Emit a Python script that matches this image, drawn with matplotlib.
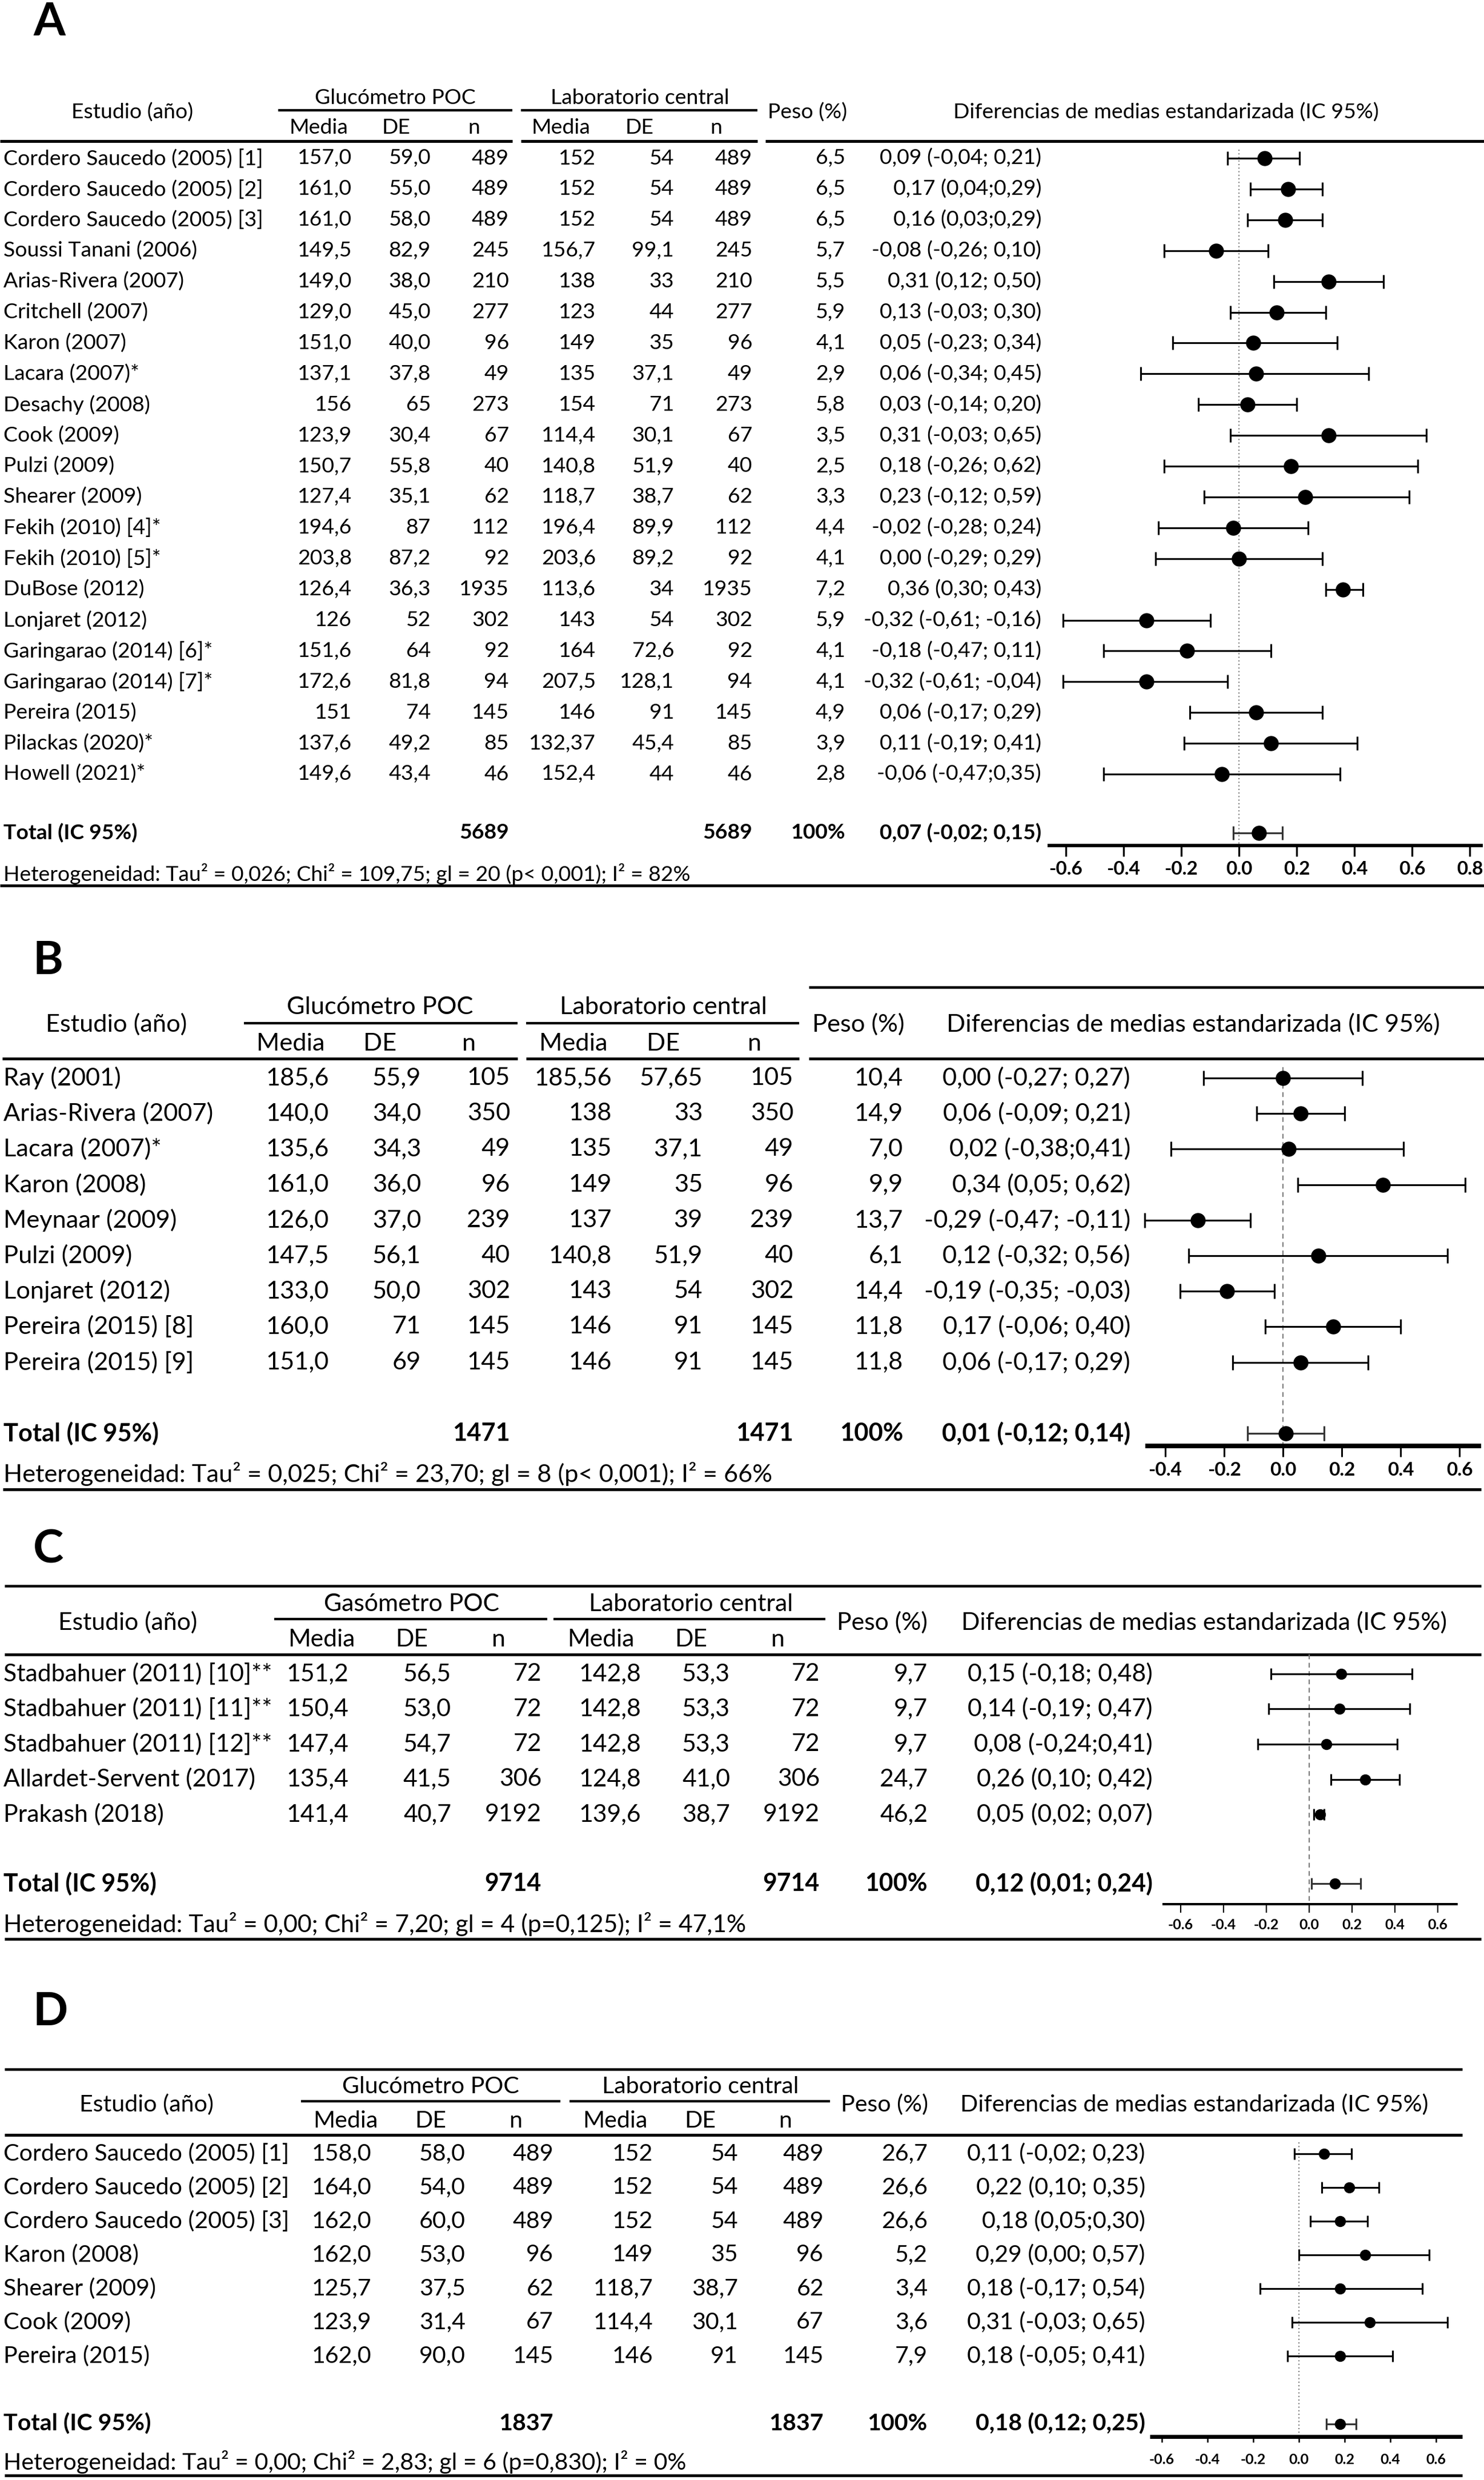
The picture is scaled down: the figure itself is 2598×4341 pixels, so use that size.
import matplotlib
matplotlib.use('Agg')
import matplotlib.pyplot as plt
import numpy as np
from matplotlib.ticker import FormatStrFormatter

plt.rcParams['font.family'] = ['Lato', 'DejaVu Sans']
plt.rcParams['axes.unicode_minus'] = False

# ======================= DATA =======================
SUB_HEADERS = ["Media", "DE", "n", "Media", "DE", "n"]
LAB_HEADER = "Laboratorio central"
DIF_HEADER = "Diferencias de medias estandarizada (IC 95%)"

# ---- Panel A ----
A_group = "Glucómetro POC"
A_study = ["Cordero Saucedo (2005) [1]", "Cordero Saucedo (2005) [2]", "Cordero Saucedo (2005) [3]",
           "Soussi Tanani (2006)", "Arias-Rivera (2007)", "Critchell (2007)", "Karon (2007)",
           "Lacara (2007)*", "Desachy (2008)", "Cook (2009)", "Pulzi (2009)", "Shearer (2009)",
           "Fekih (2010) [4]*", "Fekih (2010) [5]*", "DuBose (2012)", "Lonjaret (2012)",
           "Garingarao (2014) [6]*", "Garingarao (2014) [7]*", "Pereira (2015)", "Pilackas (2020)*",
           "Howell (2021)*"]
A_poc_media = ["157,0", "161,0", "161,0", "149,5", "149,0", "129,0", "151,0", "137,1", "156", "123,9",
               "150,7", "127,4", "194,6", "203,8", "126,4", "126", "151,6", "172,6", "151", "137,6", "149,6"]
A_poc_de = ["59,0", "55,0", "58,0", "82,9", "38,0", "45,0", "40,0", "37,8", "65", "30,4", "55,8", "35,1",
            "87", "87,2", "36,3", "52", "64", "81,8", "74", "49,2", "43,4"]
A_poc_n = ["489", "489", "489", "245", "210", "277", "96", "49", "273", "67", "40", "62", "112", "92",
           "1935", "302", "92", "94", "145", "85", "46"]
A_lab_media = ["152", "152", "152", "156,7", "138", "123", "149", "135", "154", "114,4", "140,8", "118,7",
               "196,4", "203,6", "113,6", "143", "164", "207,5", "146", "132,37", "152,4"]
A_lab_de = ["54", "54", "54", "99,1", "33", "44", "35", "37,1", "71", "30,1", "51,9", "38,7", "89,9",
            "89,2", "34", "54", "72,6", "128,1", "91", "45,4", "44"]
A_lab_n = ["489", "489", "489", "245", "210", "277", "96", "49", "273", "67", "40", "62", "112", "92",
           "1935", "302", "92", "94", "145", "85", "46"]
A_peso = ["6,5", "6,5", "6,5", "5,7", "5,5", "5,9", "4,1", "2,9", "5,8", "3,5", "2,5", "3,3", "4,4", "4,1",
          "7,2", "5,9", "4,1", "4,1", "4,9", "3,9", "2,8"]
A_ci = ["0,09 (-0,04; 0,21)", "0,17 (0,04;0,29)", "0,16 (0,03;0,29)", "-0,08 (-0,26; 0,10)",
        "0,31 (0,12; 0,50)", "0,13 (-0,03; 0,30)", "0,05 (-0,23; 0,34)", "0,06 (-0,34; 0,45)",
        "0,03 (-0,14; 0,20)", "0,31 (-0,03; 0,65)", "0,18 (-0,26; 0,62)", "0,23 (-0,12; 0,59)",
        "-0,02 (-0,28; 0,24)", "0,00 (-0,29; 0,29)", "0,36 (0,30; 0,43)", "-0,32 (-0,61; -0,16)",
        "-0,18 (-0,47; 0,11)", "-0,32 (-0,61; -0,04)", "0,06 (-0,17; 0,29)", "0,11 (-0,19; 0,41)",
        "-0,06 (-0,47;0,35)"]
A_est = [0.09, 0.17, 0.16, -0.08, 0.31, 0.13, 0.05, 0.06, 0.03, 0.31, 0.18, 0.23, -0.02, 0.00, 0.36,
         -0.32, -0.18, -0.32, 0.06, 0.11, -0.06]
A_lo = [-0.04, 0.04, 0.03, -0.26, 0.12, -0.03, -0.23, -0.34, -0.14, -0.03, -0.26, -0.12, -0.28, -0.29,
        0.30, -0.61, -0.47, -0.61, -0.17, -0.19, -0.47]
A_hi = [0.21, 0.29, 0.29, 0.10, 0.50, 0.30, 0.34, 0.45, 0.20, 0.65, 0.62, 0.59, 0.24, 0.29, 0.43,
        -0.10, 0.11, -0.04, 0.29, 0.41, 0.35]
A_total_n = "5689"
A_total_ci = "0,07 (-0,02; 0,15)"
A_total = (0.07, -0.02, 0.15)
A_het = "Heterogeneidad: Tau² = 0,026; Chi² = 109,75; gl = 20 (p< 0,001); I² = 82%"
A_ticks = [-0.6, -0.4, -0.2, 0.0, 0.2, 0.4, 0.6, 0.8]

# ---- Panel B ----
B_group = "Glucómetro POC"
B_study = ["Ray (2001)", "Arias-Rivera (2007)", "Lacara (2007)*", "Karon (2008)", "Meynaar (2009)",
           "Pulzi (2009)", "Lonjaret (2012)", "Pereira (2015) [8]", "Pereira (2015) [9]"]
B_poc_media = ["185,6", "140,0", "135,6", "161,0", "126,0", "147,5", "133,0", "160,0", "151,0"]
B_poc_de = ["55,9", "34,0", "34,3", "36,0", "37,0", "56,1", "50,0", "71", "69"]
B_poc_n = ["105", "350", "49", "96", "239", "40", "302", "145", "145"]
B_lab_media = ["185,56", "138", "135", "149", "137", "140,8", "143", "146", "146"]
B_lab_de = ["57,65", "33", "37,1", "35", "39", "51,9", "54", "91", "91"]
B_lab_n = ["105", "350", "49", "96", "239", "40", "302", "145", "145"]
B_peso = ["10,4", "14,9", "7,0", "9,9", "13,7", "6,1", "14,4", "11,8", "11,8"]
B_ci = ["0,00 (-0,27; 0,27)", "0,06 (-0,09; 0,21)", "0,02 (-0,38;0,41)", "0,34 (0,05; 0,62)",
        "-0,29 (-0,47; -0,11)", "0,12 (-0,32; 0,56)", "-0,19 (-0,35; -0,03)", "0,17 (-0,06; 0,40)",
        "0,06 (-0,17; 0,29)"]
B_est = [0.00, 0.06, 0.02, 0.34, -0.29, 0.12, -0.19, 0.17, 0.06]
B_lo = [-0.27, -0.09, -0.38, 0.05, -0.47, -0.32, -0.35, -0.06, -0.17]
B_hi = [0.27, 0.21, 0.41, 0.62, -0.11, 0.56, -0.03, 0.40, 0.29]
B_total_n = "1471"
B_total_ci = "0,01 (-0,12; 0,14)"
B_total = (0.01, -0.12, 0.14)
B_het = "Heterogeneidad: Tau² = 0,025; Chi² = 23,70; gl = 8 (p< 0,001); I² = 66%"
B_ticks = [-0.4, -0.2, 0.0, 0.2, 0.4, 0.6]

# ---- Panel C ----
C_group = "Gasómetro POC"
C_study = ["Stadbahuer (2011) [10]**", "Stadbahuer (2011) [11]**", "Stadbahuer (2011) [12]**",
           "Allardet-Servent (2017)", "Prakash (2018)"]
C_poc_media = ["151,2", "150,4", "147,4", "135,4", "141,4"]
C_poc_de = ["56,5", "53,0", "54,7", "41,5", "40,7"]
C_poc_n = ["72", "72", "72", "306", "9192"]
C_lab_media = ["142,8", "142,8", "142,8", "124,8", "139,6"]
C_lab_de = ["53,3", "53,3", "53,3", "41,0", "38,7"]
C_lab_n = ["72", "72", "72", "306", "9192"]
C_peso = ["9,7", "9,7", "9,7", "24,7", "46,2"]
C_ci = ["0,15 (-0,18; 0,48)", "0,14 (-0,19; 0,47)", "0,08 (-0,24;0,41)", "0,26 (0,10; 0,42)",
        "0,05 (0,02; 0,07)"]
C_est = [0.15, 0.14, 0.08, 0.26, 0.05]
C_lo = [-0.18, -0.19, -0.24, 0.10, 0.02]
C_hi = [0.48, 0.47, 0.41, 0.42, 0.07]
C_total_n = "9714"
C_total_ci = "0,12 (0,01; 0,24)"
C_total = (0.12, 0.01, 0.24)
C_het = "Heterogeneidad: Tau² = 0,00; Chi² = 7,20; gl = 4 (p=0,125); I² = 47,1%"
C_ticks = [-0.6, -0.4, -0.2, 0.0, 0.2, 0.4, 0.6]

# ---- Panel D ----
D_group = "Glucómetro POC"
D_study = ["Cordero Saucedo (2005) [1]", "Cordero Saucedo (2005) [2]", "Cordero Saucedo (2005) [3]",
           "Karon (2008)", "Shearer (2009)", "Cook (2009)", "Pereira (2015)"]
D_poc_media = ["158,0", "164,0", "162,0", "162,0", "125,7", "123,9", "162,0"]
D_poc_de = ["58,0", "54,0", "60,0", "53,0", "37,5", "31,4", "90,0"]
D_poc_n = ["489", "489", "489", "96", "62", "67", "145"]
D_lab_media = ["152", "152", "152", "149", "118,7", "114,4", "146"]
D_lab_de = ["54", "54", "54", "35", "38,7", "30,1", "91"]
D_lab_n = ["489", "489", "489", "96", "62", "67", "145"]
D_peso = ["26,7", "26,6", "26,6", "5,2", "3,4", "3,6", "7,9"]
D_ci = ["0,11 (-0,02; 0,23)", "0,22 (0,10; 0,35)", "0,18 (0,05;0,30)", "0,29 (0,00; 0,57)",
        "0,18 (-0,17; 0,54)", "0,31 (-0,03; 0,65)", "0,18 (-0,05; 0,41)"]
D_est = [0.11, 0.22, 0.18, 0.29, 0.18, 0.31, 0.18]
D_lo = [-0.02, 0.10, 0.05, 0.00, -0.17, -0.03, -0.05]
D_hi = [0.23, 0.35, 0.30, 0.57, 0.54, 0.65, 0.41]
D_total_n = "1837"
D_total_ci = "0,18 (0,12; 0,25)"
D_total = (0.18, 0.12, 0.25)
D_het = "Heterogeneidad: Tau² = 0,00; Chi² = 2,83; gl = 6 (p=0,830); I² = 0%"
D_ticks = [-0.6, -0.4, -0.2, 0.0, 0.2, 0.4, 0.6]

# ======================= LAYOUT (pixels) =======================
W, H = 2598, 4341
LAYOUT = {
    'A': dict(letter_y=62, top_line=None, grp_y=172, hdr_y=197, sub_y=223, ul_y=193, hl_y=247,
              hl_segs=[(0, 897), (912, 1326), (1340, 2598)], ul_segs=[(487, 897), (912, 1326)],
              est_x=232, grp_x=[692, 1120], sub_x=[558, 694, 830, 982, 1120, 1254],
              num_x=[616, 754, 891, 1043, 1180, 1317], peso_x=1480, peso_hx=1414, ci_x=1823,
              dif_x=2041, dif_w=745, row0=277, dy=53.9, tot_y=1458, het_y=1530,
              bot_line=(0, 2598, 1550), zero=2169, ppu=505, ax_x=(1834, 2596), ax_y=1480,
              zero_top=262, ms=18, cap=8.3, spine=4.3, tlen=13.7, tw=2.4, tfs=24, pad=5.5,
              zls=(0, (1, 2))),
    'B': dict(letter_y=1705, top_line=(1416, 2598, 1728), grp_y=1763, hdr_y=1793, sub_y=1827,
              ul_y=1791, hl_y=1853, hl_segs=[(4, 906), (921, 1399), (1416, 2598)],
              ul_segs=[(427, 906), (921, 1399)], est_x=204, grp_x=[665, 1161],
              sub_x=[509, 665, 821, 1004, 1161, 1321], num_x=[576, 737, 893, 1071, 1230, 1389],
              peso_x=1581, peso_hx=1503, ci_x=1979, dif_x=2089, dif_w=865, row0=1887, dy=62.2,
              tot_y=2509, het_y=2580, bot_line=(5, 2593, 2607), zero=2246, ppu=515,
              ax_x=(2005, 2593), ax_y=2531, zero_top=1868, ms=18, cap=9.7, spine=5.8, tlen=13.7,
              tw=2.2, tfs=24, pad=6.5, zls=(0, (4, 3))),
    'C': dict(letter_y=2735, top_line=(8, 2593, 2776), grp_y=2808, hdr_y=2840, sub_y=2870,
              ul_y=2834, hl_y=2896, hl_segs=[(8, 2593)], ul_segs=[(480, 958), (969, 1445)],
              est_x=224, grp_x=[721, 1210], sub_x=[563, 721, 873, 1052, 1210, 1362],
              num_x=[610, 790, 948, 1122, 1278, 1435], peso_x=1624, peso_hx=1544, ci_x=2018,
              dif_x=2108, dif_w=853, row0=2930, dy=61.5, tot_y=3297, het_y=3368,
              bot_line=(8, 2593, 3394), zero=2292, ppu=375, ax_x=(2035, 2552), ax_y=3333,
              zero_top=2896, ms=13, cap=7.2, spine=2.9, tlen=10.8, tw=1.6, tfs=18, pad=7.5,
              zls=(0, (4, 3))),
    'D': dict(letter_y=3545, top_line=(8, 2560, 3622), grp_y=3653, hdr_y=3684, sub_y=3712,
              ul_y=3678, hl_y=3737, hl_segs=[(8, 2560)], ul_segs=[(527, 981), (997, 1453)],
              est_x=257, grp_x=[754, 1226], sub_x=[605, 754, 903, 1077, 1226, 1375],
              num_x=[650, 815, 969, 1143, 1292, 1442], peso_x=1624, peso_hx=1549, ci_x=2005,
              dif_x=2091, dif_w=820, row0=3770, dy=59, tot_y=4243, het_y=4310,
              bot_line=(8, 2560, 4333), zero=2274, ppu=400, ax_x=(2013, 2560), ax_y=4265,
              zero_top=3750, ms=13, cap=7.2, spine=5.0, tlen=7.2, tw=1.8, tfs=18, pad=13.5,
              zls=(0, (1, 2))),
}

PANELS = {
    'A': dict(grp=A_group, study=A_study, cols=[A_poc_media, A_poc_de, A_poc_n, A_lab_media, A_lab_de, A_lab_n],
              peso=A_peso, ci=A_ci, est=A_est, lo=A_lo, hi=A_hi, tot_n=A_total_n, tot_ci=A_total_ci,
              tot=A_total, het=A_het, ticks=A_ticks),
    'B': dict(grp=B_group, study=B_study, cols=[B_poc_media, B_poc_de, B_poc_n, B_lab_media, B_lab_de, B_lab_n],
              peso=B_peso, ci=B_ci, est=B_est, lo=B_lo, hi=B_hi, tot_n=B_total_n, tot_ci=B_total_ci,
              tot=B_total, het=B_het, ticks=B_ticks),
    'C': dict(grp=C_group, study=C_study, cols=[C_poc_media, C_poc_de, C_poc_n, C_lab_media, C_lab_de, C_lab_n],
              peso=C_peso, ci=C_ci, est=C_est, lo=C_lo, hi=C_hi, tot_n=C_total_n, tot_ci=C_total_ci,
              tot=C_total, het=C_het, ticks=C_ticks),
    'D': dict(grp=D_group, study=D_study, cols=[D_poc_media, D_poc_de, D_poc_n, D_lab_media, D_lab_de, D_lab_n],
              peso=D_peso, ci=D_ci, est=D_est, lo=D_lo, hi=D_hi, tot_n=D_total_n, tot_ci=D_total_ci,
              tot=D_total, het=D_het, ticks=D_ticks),
}

# ======================= DRAWING =======================
fig = plt.figure(figsize=(W / 100, H / 100), dpi=100)
fig.patch.set_facecolor('white')
bg = fig.add_axes([0, 0, 1, 1])
bg.set_xlim(0, W)
bg.set_ylim(H, 0)
bg.axis('off')
renderer = fig.canvas.get_renderer()


def fit_fs(text, target):
    t = bg.text(0, 0, text, fontsize=20)
    w = t.get_window_extent(renderer).width
    t.remove()
    return 20.0 * target / w


def hline(x0, x1, y, px):
    bg.plot([x0, x1], [y, y], color='black', lw=px * 0.72, solid_capstyle='butt')


def txt(x, y, s, fs, ha='left', bold=False):
    bg.text(x, y, s, fontsize=fs, ha=ha, va='center', color='black',
            fontweight='bold' if bold else 'normal')


def draw_panel(letter, L, P):
    fs = fit_fs(DIF_HEADER, L['dif_w'])
    bg.text(58, L['letter_y'], letter, fontsize=58, fontweight='bold', ha='left', va='baseline')
    if L['top_line']:
        x0, x1, y = L['top_line']
        hline(x0, x1, y, 4.5)
    # header
    txt(L['est_x'], L['hdr_y'], "Estudio (año)", fs, 'center')
    for gx, g in zip(L['grp_x'], [P['grp'], LAB_HEADER]):
        txt(gx, L['grp_y'], g, fs, 'center')
    for x0, x1 in L['ul_segs']:
        hline(x0, x1, L['ul_y'], 4.3)
    for sx, s in zip(L['sub_x'], SUB_HEADERS):
        txt(sx, L['sub_y'], s, fs, 'center')
    txt(L['peso_hx'], L['hdr_y'], "Peso (%)", fs, 'center')
    txt(L['dif_x'], L['hdr_y'], DIF_HEADER, fs, 'center')
    for x0, x1 in L['hl_segs']:
        hline(x0, x1, L['hl_y'], 5)
    # rows
    n = len(P['study'])
    ys = L['row0'] + L['dy'] * np.arange(n)
    for i, y in enumerate(ys):
        txt(6, y, P['study'][i], fs)
        for cx, col in zip(L['num_x'], P['cols']):
            txt(cx, y, col[i], fs, 'right')
        txt(L['peso_x'], y, P['peso'][i], fs, 'right')
        txt(L['ci_x'], y, P['ci'][i], fs, 'right')
    ty = L['tot_y']
    txt(6, ty, "Total (IC 95%)", fs, bold=True)
    txt(L['num_x'][2], ty, P['tot_n'], fs, 'right', True)
    txt(L['num_x'][5], ty, P['tot_n'], fs, 'right', True)
    txt(L['peso_x'], ty, "100%", fs, 'right', True)
    txt(L['ci_x'], ty, P['tot_ci'], fs, 'right', True)
    txt(6, L['het_y'], P['het'], fs)
    x0, x1, y = L['bot_line']
    hline(x0, x1, y, 5)

    # forest plot
    ax0, ax1 = L['ax_x']
    ytop, ybot = L['hl_y'], L['ax_y']
    ax = fig.add_axes([ax0 / W, 1 - ybot / H, (ax1 - ax0) / W, (ybot - ytop) / H])
    ax.patch.set_alpha(0)
    ax.set_xlim((ax0 - L['zero']) / L['ppu'], (ax1 - L['zero']) / L['ppu'])
    ax.set_ylim(ybot, ytop)
    for s in ['top', 'left', 'right']:
        ax.spines[s].set_visible(False)
    ax.spines['bottom'].set_linewidth(L['spine'])
    ax.spines['bottom'].set_capstyle('butt')
    ax.set_yticks([])
    ax.set_xticks(P['ticks'])
    ax.xaxis.set_major_formatter(FormatStrFormatter('%.1f'))
    ax.tick_params(axis='x', direction='out', length=L['tlen'], width=L['tw'], pad=L['pad'],
                   labelsize=L['tfs'])
    for lbl in ax.get_xticklabels():
        lbl.set_fontweight('bold')
    ax.plot([0, 0], [L['zero_top'], ybot], color='#7a7a7a', lw=1.5, ls=L['zls'], clip_on=False)
    est = np.array(P['est'])
    lo = np.array(P['lo'])
    hi = np.array(P['hi'])
    ax.errorbar(est, ys, xerr=[est - lo, hi - est], fmt='o', color='black', ms=L['ms'],
                capsize=L['cap'], elinewidth=2.3, capthick=2.3, clip_on=False)
    te, tl, th = P['tot']
    ax.errorbar([te], [ty], xerr=[[te - tl], [th - te]], fmt='o', color='black', ms=L['ms'],
                capsize=L['cap'], elinewidth=2.3, capthick=2.3, ecolor='#333333', clip_on=False)


for key in ['A', 'B', 'C', 'D']:
    draw_panel(key, LAYOUT[key], PANELS[key])

fig.savefig('out.png', dpi=100, facecolor='white')
